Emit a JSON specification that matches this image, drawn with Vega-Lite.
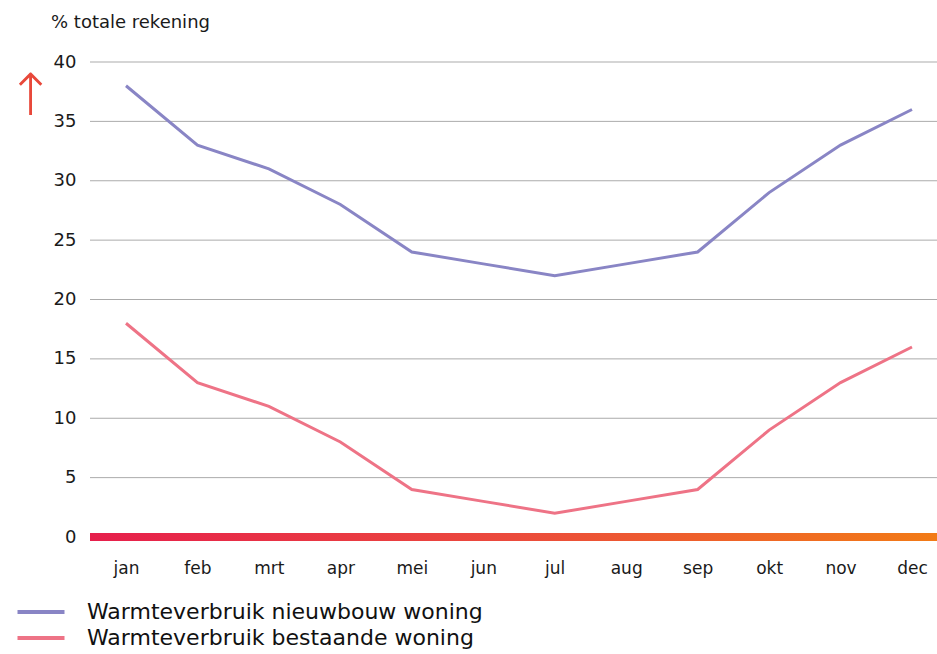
{
  "$schema": "https://vega.github.io/schema/vega-lite/v6.json",
  "width": 847,
  "height": 475,
  "autosize": {"type": "none"},
  "padding": {"left": 90, "top": 62, "right": 0, "bottom": 117},
  "background": "white",
  "config": {
    "view": {"stroke": null},
    "font": "DejaVu Sans",
    "axis": {"labelFont": "DejaVu Sans", "labelColor": "#1a1a1a", "labelFontSize": 17}
  },
  "title": {
    "text": "% totale rekening",
    "anchor": "start",
    "frame": "group",
    "dx": -39,
    "offset": 21,
    "fontSize": 18,
    "fontWeight": "normal",
    "color": "#1a1a1a",
    "font": "DejaVu Sans"
  },
  "datasets": {
    "grid": [{"v": 5}, {"v": 10}, {"v": 15}, {"v": 20}, {"v": 25}, {"v": 30}, {"v": 35}, {"v": 40}]
  },
  "data": {
    "values": [
      {"maand": "jan", "serie": "Warmteverbruik nieuwbouw woning", "pct": 38},
      {"maand": "feb", "serie": "Warmteverbruik nieuwbouw woning", "pct": 33},
      {"maand": "mrt", "serie": "Warmteverbruik nieuwbouw woning", "pct": 31},
      {"maand": "apr", "serie": "Warmteverbruik nieuwbouw woning", "pct": 28},
      {"maand": "mei", "serie": "Warmteverbruik nieuwbouw woning", "pct": 24},
      {"maand": "jun", "serie": "Warmteverbruik nieuwbouw woning", "pct": 23},
      {"maand": "jul", "serie": "Warmteverbruik nieuwbouw woning", "pct": 22},
      {"maand": "aug", "serie": "Warmteverbruik nieuwbouw woning", "pct": 23},
      {"maand": "sep", "serie": "Warmteverbruik nieuwbouw woning", "pct": 24},
      {"maand": "okt", "serie": "Warmteverbruik nieuwbouw woning", "pct": 29},
      {"maand": "nov", "serie": "Warmteverbruik nieuwbouw woning", "pct": 33},
      {"maand": "dec", "serie": "Warmteverbruik nieuwbouw woning", "pct": 36},
      {"maand": "jan", "serie": "Warmteverbruik bestaande woning", "pct": 18},
      {"maand": "feb", "serie": "Warmteverbruik bestaande woning", "pct": 13},
      {"maand": "mrt", "serie": "Warmteverbruik bestaande woning", "pct": 11},
      {"maand": "apr", "serie": "Warmteverbruik bestaande woning", "pct": 8},
      {"maand": "mei", "serie": "Warmteverbruik bestaande woning", "pct": 4},
      {"maand": "jun", "serie": "Warmteverbruik bestaande woning", "pct": 3},
      {"maand": "jul", "serie": "Warmteverbruik bestaande woning", "pct": 2},
      {"maand": "aug", "serie": "Warmteverbruik bestaande woning", "pct": 3},
      {"maand": "sep", "serie": "Warmteverbruik bestaande woning", "pct": 4},
      {"maand": "okt", "serie": "Warmteverbruik bestaande woning", "pct": 9},
      {"maand": "nov", "serie": "Warmteverbruik bestaande woning", "pct": 13},
      {"maand": "dec", "serie": "Warmteverbruik bestaande woning", "pct": 16}
    ]
  },
  "layer": [
    {
      "data": {"name": "grid"},
      "mark": {"type": "rule", "color": "#ababab", "strokeWidth": 1},
      "encoding": {
        "y": {"field": "v", "type": "quantitative", "scale": {"domain": [0, 40], "nice": false}}
      }
    },
    {
      "mark": {"type": "line", "strokeWidth": 3},
      "encoding": {
        "x": {
          "field": "maand",
          "type": "ordinal",
          "sort": ["jan","feb","mrt","apr","mei","jun","jul","aug","sep","okt","nov","dec"],
          "scale": {"type": "point", "range": [36, 822], "padding": 0},
          "axis": {"title": null, "domain": false, "ticks": false, "grid": false, "labelAngle": 0, "labelPadding": 23}
        },
        "y": {
          "field": "pct",
          "type": "quantitative",
          "scale": {"domain": [0, 40], "nice": false, "zero": true},
          "axis": {
            "values": [0, 5, 10, 15, 20, 25, 30, 35, 40],
            "domain": false,
            "ticks": false,
            "grid": false,
            "labelPadding": 14,
            "labelFontSize": 18,
            "title": "↑",
            "titleAngle": 0,
            "titleX": -60,
            "titleY": 35,
            "titleAlign": "center",
            "titleBaseline": "middle",
            "titleFontSize": 58,
            "titleFontWeight": 200,
            "titleFont": "DejaVu Sans",
            "titleColor": "#e8483a"
          }
        },
        "color": {
          "field": "serie",
          "type": "nominal",
          "sort": ["Warmteverbruik nieuwbouw woning", "Warmteverbruik bestaande woning"],
          "scale": {
            "domain": ["Warmteverbruik nieuwbouw woning", "Warmteverbruik bestaande woning"],
            "range": ["#8985c5", "#ee7386"]
          },
          "legend": {
            "title": null,
            "orient": "none",
            "legendX": -61,
            "legendY": 538,
            "symbolType": "M-2.35,0H2.35",
            "symbolSize": 400,
            "symbolStrokeWidth": 4,
            "labelFontSize": 22,
            "labelFont": "DejaVu Sans",
            "labelColor": "#111111",
            "labelOffset": 34,
            "rowPadding": 3,
            "labelLimit": 500
          }
        }
      }
    },
    {
      "mark": {
        "type": "rect",
        "fill": {
          "gradient": "linear",
          "x1": 0, "x2": 1, "y1": 0, "y2": 0,
          "stops": [
            {"offset": 0, "color": "#e61f4c"},
            {"offset": 0.5, "color": "#eb4b3c"},
            {"offset": 1, "color": "#f27b16"}
          ]
        }
      },
      "encoding": {
        "x": {"value": 0},
        "x2": {"value": "width"},
        "y": {"datum": 0.33},
        "y2": {"datum": -0.33}
      }
    }
  ]
}
